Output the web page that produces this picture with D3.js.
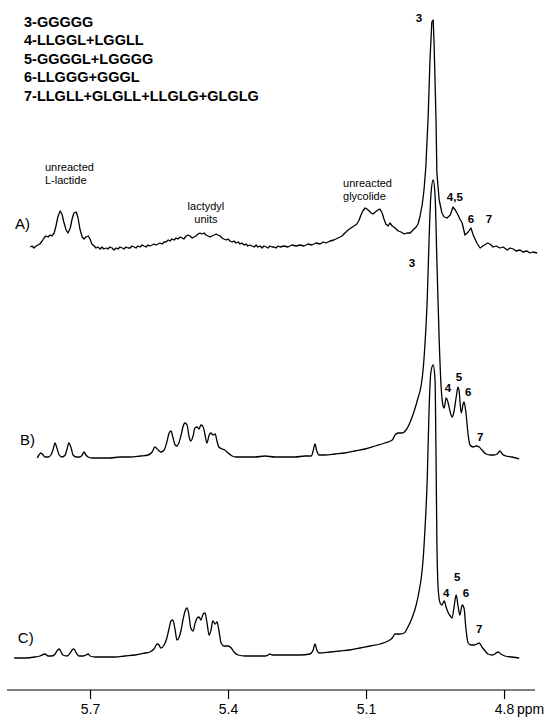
<!DOCTYPE html>
<html>
<head>
<meta charset="utf-8">
<script src="https://cdn.jsdelivr.net/npm/d3@7"></script>
<style>
  html, body { margin: 0; padding: 0; background: #fff; }
  svg { display: block; }
  text { font-family: "Liberation Sans", Arial, Helvetica, sans-serif; fill: #000; }
</style>
</head>
<body>
<svg id="chart" width="547" height="717"></svg>
<script>
// ---------- DATA ----------
const legendLines = [
  "3-GGGGG",
  "4-LLGGL+LGGLL",
  "5-GGGGL+LGGGG",
  "6-LLGGG+GGGL",
  "7-LLGLL+GLGLL+LLGLG+GLGLG"
];

const tickValues = [5.7, 5.4, 5.1, 4.8];
const axisUnit = "ppm";

// Spectrum A: [ppm, intensity]
const traceA = [
  [5.830,5],[5.826,6],[5.822,4],[5.817,6],[5.813,7],[5.809,8],[5.804,11],[5.800,14],[5.796,16],[5.791,15],
  [5.787,17],[5.783,16],[5.778,19],[5.774,26],[5.770,35],[5.765,41],[5.761,38],[5.757,30],[5.752,22],[5.748,19],
  [5.743,24],[5.739,33],[5.735,39],[5.730,40],[5.726,34],[5.722,23],[5.717,15],[5.713,13],[5.709,15],[5.704,16],
  [5.700,13],[5.696,8],[5.691,6],[5.687,4],[5.683,5],[5.678,3],[5.674,5],[5.670,3],[5.665,4],[5.661,3],
  [5.657,5],[5.652,4],[5.648,2],[5.643,4],[5.639,3],[5.635,5],[5.630,4],[5.626,3],[5.622,5],[5.617,4],
  [5.613,4],[5.609,6],[5.604,5],[5.600,4],[5.596,6],[5.591,5],[5.587,7],[5.583,6],[5.578,5],[5.574,7],
  [5.570,6],[5.565,7],[5.561,8],[5.557,7],[5.552,8],[5.548,9],[5.543,8],[5.539,10],[5.535,10],[5.530,12],
  [5.526,11],[5.522,13],[5.517,12],[5.513,14],[5.509,13],[5.504,15],[5.500,14],[5.496,13],[5.491,16],[5.487,17],
  [5.483,16],[5.478,14],[5.474,15],[5.470,16],[5.465,18],[5.461,19],[5.457,18],[5.452,19],[5.448,17],[5.443,16],
  [5.439,15],[5.435,16],[5.430,17],[5.426,18],[5.422,17],[5.417,16],[5.413,14],[5.409,13],[5.404,12],[5.400,13],
  [5.396,11],[5.391,10],[5.387,11],[5.383,9],[5.378,10],[5.374,8],[5.370,9],[5.365,7],[5.361,8],[5.357,6],
  [5.352,7],[5.348,6],[5.343,5],[5.339,7],[5.335,5],[5.330,6],[5.326,4],[5.322,6],[5.317,5],[5.313,4],
  [5.309,6],[5.304,5],[5.300,5],[5.296,4],[5.291,6],[5.287,5],[5.278,6],[5.270,5],[5.261,7],[5.252,6],
  [5.243,7],[5.235,6],[5.226,8],[5.218,7],[5.209,9],[5.200,8],[5.193,10],[5.187,9],[5.178,11],[5.170,12],
  [5.161,14],[5.152,16],[5.146,19],[5.139,22],[5.133,24],[5.126,26],[5.120,28],[5.115,32],[5.111,37],[5.107,41],
  [5.102,44],[5.098,43],[5.093,41],[5.089,39],[5.085,38],[5.080,40],[5.074,42],[5.070,43],[5.065,39],[5.061,33],
  [5.057,28],[5.052,26],[5.048,29],[5.043,26],[5.037,24],[5.030,21],[5.024,20],[5.017,18],[5.011,19],[5.004,19],
  [4.998,22],[4.991,25],[4.987,28],[4.983,35],[4.978,47],[4.974,62],[4.970,85],[4.965,135],[4.961,192],[4.957,230],
  [4.954,232],[4.952,207],[4.948,135],[4.946,79],[4.941,52],[4.935,39],[4.930,35],[4.924,34],[4.917,37],[4.911,45],
  [4.906,42],[4.900,37],[4.896,33],[4.891,29],[4.885,17],[4.878,20],[4.872,24],[4.867,17],[4.863,13],[4.859,9],
  [4.852,4],[4.846,6],[4.839,8],[4.835,9],[4.828,7],[4.824,5],[4.817,6],[4.809,4],[4.802,5],[4.793,2],
  [4.787,4],[4.780,3],[4.774,1],[4.765,2],[4.759,0],[4.750,1],[4.744,-1],[4.737,0],[4.728,-1]
];

// Spectrum B: [ppm, intensity]
const traceB = [
  [5.815,1],[5.811,4],[5.807,6],[5.802,4],[5.798,2],[5.791,2],[5.785,4],[5.780,10],[5.776,16],[5.772,11],
  [5.767,4],[5.761,2],[5.754,4],[5.750,10],[5.746,16],[5.741,11],[5.737,4],[5.730,2],[5.722,2],[5.717,4],
  [5.713,7],[5.709,4],[5.704,2],[5.696,1],[5.678,1],[5.657,1],[5.635,2],[5.613,2],[5.591,3],[5.574,4],
  [5.565,7],[5.559,12],[5.552,9],[5.546,7],[5.539,9],[5.533,17],[5.528,26],[5.524,28],[5.520,22],[5.515,14],
  [5.511,13],[5.507,16],[5.502,24],[5.498,32],[5.494,36],[5.489,34],[5.485,23],[5.481,18],[5.476,23],[5.472,31],
  [5.467,32],[5.463,30],[5.459,34],[5.454,32],[5.450,24],[5.446,16],[5.441,24],[5.437,26],[5.433,24],[5.428,25],
  [5.424,18],[5.420,12],[5.413,10],[5.407,9],[5.400,6],[5.391,3],[5.383,2],[5.363,2],[5.341,2],[5.320,3],
  [5.298,2],[5.276,2],[5.254,2],[5.233,3],[5.219,3],[5.215,8],[5.211,15],[5.207,8],[5.202,4],[5.189,4],
  [5.167,5],[5.146,6],[5.124,8],[5.102,10],[5.080,13],[5.059,16],[5.043,19],[5.037,24],[5.030,26],[5.022,26],
  [5.013,29],[5.004,37],[4.996,47],[4.987,61],[4.980,74],[4.976,89],[4.972,114],[4.967,159],[4.963,219],[4.959,264],
  [4.954,279],[4.950,264],[4.946,199],[4.941,119],[4.937,74],[4.933,54],[4.930,51],[4.926,61],[4.922,57],[4.917,47],
  [4.913,42],[4.909,47],[4.904,62],[4.900,72],[4.898,69],[4.893,46],[4.889,55],[4.887,57],[4.883,47],[4.878,24],
  [4.874,14],[4.867,12],[4.861,13],[4.854,12],[4.848,9],[4.839,5],[4.830,4],[4.822,4],[4.815,5],[4.809,8],
  [4.804,5],[4.796,3],[4.783,2],[4.767,0]
];

// Spectrum C: [ppm, intensity]
const traceC = [
  [5.865,1],[5.841,1],[5.820,2],[5.809,3],[5.798,5],[5.791,3],[5.783,3],[5.776,5],[5.772,8],[5.767,10],
  [5.763,7],[5.759,4],[5.750,3],[5.743,6],[5.739,9],[5.735,10],[5.730,6],[5.724,3],[5.715,3],[5.709,4],
  [5.704,5],[5.700,3],[5.689,2],[5.667,2],[5.646,2],[5.624,3],[5.602,4],[5.580,6],[5.570,7],[5.561,10],
  [5.554,15],[5.550,14],[5.546,11],[5.539,14],[5.533,21],[5.528,31],[5.524,38],[5.520,39],[5.515,29],[5.511,19],
  [5.507,21],[5.502,29],[5.498,39],[5.494,47],[5.489,51],[5.485,44],[5.481,31],[5.476,28],[5.472,35],[5.467,41],
  [5.463,42],[5.459,39],[5.454,45],[5.450,46],[5.446,37],[5.441,24],[5.437,29],[5.433,38],[5.428,35],[5.424,37],
  [5.420,29],[5.415,16],[5.409,13],[5.400,13],[5.393,11],[5.387,7],[5.378,4],[5.363,3],[5.341,3],[5.320,3],
  [5.313,4],[5.309,5],[5.304,4],[5.287,4],[5.265,4],[5.243,4],[5.222,5],[5.215,9],[5.211,15],[5.207,9],
  [5.202,6],[5.178,7],[5.157,8],[5.135,9],[5.113,11],[5.091,13],[5.070,15],[5.052,18],[5.043,21],[5.037,25],
  [5.026,25],[5.017,26],[5.009,32],[5.000,41],[4.991,54],[4.985,67],[4.980,81],[4.976,99],[4.972,129],[4.967,179],
  [4.963,249],[4.959,287],[4.954,294],[4.950,279],[4.948,209],[4.946,119],[4.943,69],[4.939,56],[4.935,54],[4.930,58],
  [4.926,52],[4.922,47],[4.917,43],[4.913,41],[4.909,51],[4.904,64],[4.900,53],[4.896,44],[4.891,54],[4.887,51],
  [4.883,31],[4.878,16],[4.872,14],[4.865,14],[4.859,15],[4.854,16],[4.848,12],[4.841,8],[4.835,5],[4.826,4],
  [4.820,5],[4.813,7],[4.807,5],[4.798,3],[4.783,2],[4.767,1]
];

// Annotations: [trace, ppm, intensity, text]
const peakLabels = [
  ["A", 4.985, 230, "3"], ["A", 4.907, 51, "4,5"], ["A", 4.872, 29, "6"], ["A", 4.833, 29, "7"],
  ["B", 5.000, 192, "3"], ["B", 4.922, 67, "4"], ["B", 4.898, 78, "5"], ["B", 4.878, 63, "6"], ["B", 4.852, 18, "7"],
  ["C", 4.926, 62, "4"], ["C", 4.902, 78, "5"], ["C", 4.883, 62, "6"], ["C", 4.854, 26, "7"]
];
const regionLabels = [
  ["A", 5.798, 81, ["unreacted", "L-lactide"], "start"],
  ["A", 5.448, 42, ["lactydyl", "units"], "middle"],
  ["A", 5.150, 65, ["unreacted", "glycolide"], "start"]
];
const traceNames = [["A", 5.863, 23, "A)"], ["B", 5.852, 14, "B)"], ["C", 5.857, 16, "C)"]];

// ---------- DRAW ----------
const svg = d3.select("#chart");
const x = d3.scaleLinear().domain([5.8805, 4.7327]).range([7, 535]);
const yScales = {
  A: d3.scaleLinear().domain([0, 250]).range([252, 2]),
  B: d3.scaleLinear().domain([0, 250]).range([459, 209]),
  C: d3.scaleLinear().domain([0, 250]).range([659, 409])
};
const traces = { A: traceA, B: traceB, C: traceC };
const curves = { A: d3.curveLinear, B: d3.curveMonotoneX, C: d3.curveMonotoneX };

["C", "B", "A"].forEach(k => {
  const line = d3.line().x(d => x(d[0])).y(d => yScales[k](d[1])).curve(curves[k]);
  svg.append("path")
    .datum(traces[k])
    .attr("d", line)
    .attr("fill", "none")
    .attr("stroke", "#000")
    .attr("stroke-width", 1.3)
    .attr("stroke-linejoin", "round");
});

// legend (header)
svg.append("g").selectAll("text").data(legendLines).join("text")
  .attr("x", 24)
  .attr("y", (d, i) => 27 + i * 18.4)
  .attr("font-size", "14.5px")
  .attr("font-weight", "bold")
  .text(d => d);

// peak labels
svg.append("g").selectAll("text").data(peakLabels).join("text")
  .attr("x", d => x(d[1]))
  .attr("y", d => yScales[d[0]](d[2]))
  .attr("text-anchor", "middle")
  .attr("font-size", "11.5px")
  .attr("font-weight", "bold")
  .text(d => d[3]);

// region labels
regionLabels.forEach(r => {
  const t = svg.append("text")
    .attr("x", x(r[1]))
    .attr("y", yScales[r[0]](r[2]))
    .attr("text-anchor", r[4])
    .attr("font-size", "11px");
  r[3].forEach((s, i) => {
    t.append("tspan").attr("x", x(r[1])).attr("dy", i === 0 ? 0 : 13).text(s);
  });
});

// trace names
svg.append("g").selectAll("text").data(traceNames).join("text")
  .attr("x", d => x(d[1]))
  .attr("y", d => yScales[d[0]](d[2]))
  .attr("font-size", "15px")
  .text(d => d[3]);

// axis
const axisY = 690;
const axis = d3.axisBottom(x).tickValues(tickValues).tickSize(9).tickPadding(4)
  .tickFormat(d3.format(".1f"));
const gAxis = svg.append("g").attr("transform", `translate(0,${axisY})`).call(axis);
gAxis.select(".domain").attr("d", `M${x.range()[0]},0H${x.range()[1]}`).attr("stroke", "#000").attr("stroke-width", 1.2);
gAxis.selectAll(".tick line").attr("stroke", "#000").attr("stroke-width", 1.2);
gAxis.selectAll(".tick text")
  .attr("font-family", "'Liberation Sans', Arial, sans-serif")
  .attr("font-size", "14px")
  .attr("fill", "#000")
  .attr("y", 24).attr("dy", 0);
gAxis.append("text")
  .attr("x", x(4.8) + 13)
  .attr("y", 24)
  .attr("font-size", "14px")
  .attr("text-anchor", "start")
  .attr("fill", "#000")
  .text(axisUnit);
</script>
</body>
</html>
